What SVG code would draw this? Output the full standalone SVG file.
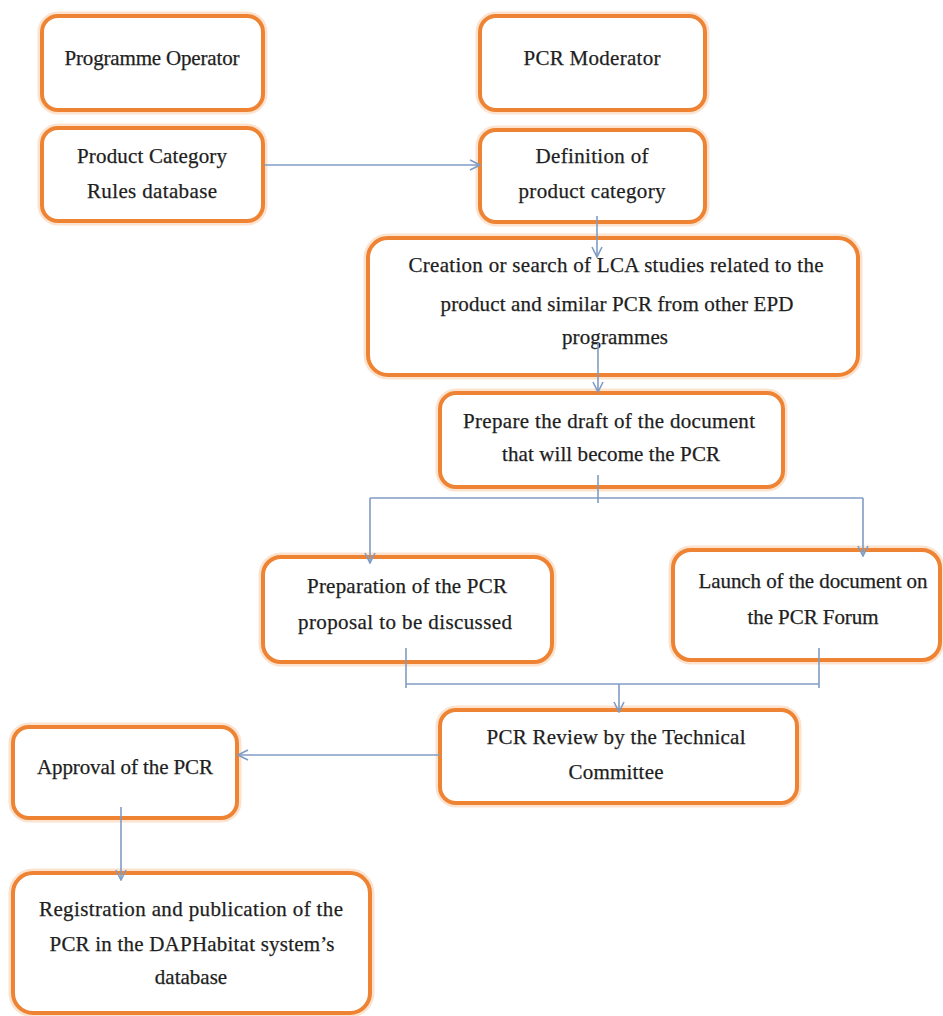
<svg xmlns="http://www.w3.org/2000/svg" width="943" height="1016" viewBox="0 0 943 1016">
<defs>
<style>
.box{fill:#ffffff;stroke:#EE8433;stroke-width:4}
.glow{fill:none;stroke:#FBE3CF;stroke-width:9}
.t{font-family:'Liberation Serif','DejaVu Serif','Times New Roman',serif;font-size:21px;fill:#1e1e1e;stroke:#1e1e1e;stroke-width:0.25;text-anchor:middle}
.c{fill:none;stroke:#7F9CC4;stroke-width:1.6}
</style>
<marker id="ah" viewBox="0 0 12 12" refX="11" refY="6" markerWidth="12" markerHeight="12" markerUnits="userSpaceOnUse" orient="auto">
<path d="M1,1 L11,6 L1,11" fill="none" stroke="#7F9CC4" stroke-width="1.6"/>
</marker>
</defs>
<rect width="943" height="1016" fill="#ffffff"/>
<g id="n-programme-operator">
<rect class="glow" x="42" y="16" width="221" height="94" rx="16"/>
<rect class="box" x="42" y="16" width="221" height="94" rx="16"/>
<text class="t" x="152" y="65" textLength="175">Programme Operator</text>
</g>
<g id="n-pcr-database">
<rect class="glow" x="42" y="128" width="221" height="93" rx="16"/>
<rect class="box" x="42" y="128" width="221" height="93" rx="16"/>
<text class="t" x="152" y="163" textLength="150">Product Category</text>
<text class="t" x="152" y="198" textLength="130">Rules database</text>
</g>
<g id="n-pcr-moderator">
<rect class="glow" x="480" y="16" width="225" height="94" rx="16"/>
<rect class="box" x="480" y="16" width="225" height="94" rx="16"/>
<text class="t" x="592" y="65" textLength="137">PCR Moderator</text>
</g>
<g id="n-definition">
<rect class="glow" x="480" y="130" width="225" height="92" rx="16"/>
<rect class="box" x="480" y="130" width="225" height="92" rx="16"/>
<text class="t" x="592" y="163" textLength="113">Definition of</text>
<text class="t" x="592" y="198" textLength="147">product category</text>
</g>
<g id="n-creation">
<rect class="glow" x="368" y="238" width="490" height="137" rx="20"/>
<rect class="box" x="368" y="238" width="490" height="137" rx="20"/>
<text class="t" x="616" y="272" textLength="415">Creation or search of LCA studies related to the</text>
<text class="t" x="617" y="311" textLength="353">product and similar PCR from other EPD</text>
<text class="t" x="615" y="344" textLength="106">programmes</text>
</g>
<g id="n-prepare">
<rect class="glow" x="440" y="393" width="343" height="94" rx="16"/>
<rect class="box" x="440" y="393" width="343" height="94" rx="16"/>
<text class="t" x="609" y="428" textLength="292">Prepare the draft of the document</text>
<text class="t" x="611" y="461" textLength="218">that will become the PCR</text>
</g>
<g id="n-preparation">
<rect class="glow" x="263" y="557" width="289" height="105" rx="18"/>
<rect class="box" x="263" y="557" width="289" height="105" rx="18"/>
<text class="t" x="407" y="593" textLength="200">Preparation of the PCR</text>
<text class="t" x="405" y="629" textLength="214">proposal to be discussed</text>
</g>
<g id="n-launch">
<rect class="glow" x="673" y="550" width="267" height="110" rx="18"/>
<rect class="box" x="673" y="550" width="267" height="110" rx="18"/>
<text class="t" x="813" y="588" textLength="229">Launch of the document on</text>
<text class="t" x="813" y="624" textLength="131">the PCR Forum</text>
</g>
<g id="n-review">
<rect class="glow" x="440" y="710" width="357" height="93" rx="16"/>
<rect class="box" x="440" y="710" width="357" height="93" rx="16"/>
<text class="t" x="616" y="744" textLength="259">PCR Review by the Technical</text>
<text class="t" x="616" y="779" textLength="95">Committee</text>
</g>
<g id="n-approval">
<rect class="glow" x="13" y="727" width="224" height="91" rx="16"/>
<rect class="box" x="13" y="727" width="224" height="91" rx="16"/>
<text class="t" x="125" y="774" textLength="176">Approval of the PCR</text>
</g>
<g id="n-registration">
<rect class="glow" x="13" y="873" width="357" height="140" rx="20"/>
<rect class="box" x="13" y="873" width="357" height="140" rx="20"/>
<text class="t" x="191" y="916" textLength="304">Registration and publication of the</text>
<text class="t" x="192" y="951" textLength="285">PCR in the DAPHabitat system’s</text>
<text class="t" x="191" y="984">database</text>
</g>
<g id="connectors">
<line class="c" x1="264" y1="165" x2="480" y2="165" marker-end="url(#ah)"/>
<line class="c" x1="597" y1="216" x2="597" y2="257" marker-end="url(#ah)"/>
<line class="c" x1="598" y1="343" x2="598" y2="392" marker-end="url(#ah)"/>
<line class="c" x1="598" y1="475" x2="598" y2="503"/>
<line class="c" x1="370" y1="498" x2="863" y2="498"/>
<line class="c" x1="370" y1="498" x2="370" y2="563" marker-end="url(#ah)"/>
<line class="c" x1="863" y1="498" x2="863" y2="556" marker-end="url(#ah)"/>
<line class="c" x1="406" y1="648" x2="406" y2="688"/>
<line class="c" x1="819" y1="648" x2="819" y2="688"/>
<line class="c" x1="406" y1="684" x2="819" y2="684"/>
<line class="c" x1="619" y1="684" x2="619" y2="712" marker-end="url(#ah)"/>
<line class="c" x1="440" y1="755" x2="238" y2="755" marker-end="url(#ah)"/>
<line class="c" x1="121" y1="807" x2="121" y2="880" marker-end="url(#ah)"/>
</g>
</svg>
